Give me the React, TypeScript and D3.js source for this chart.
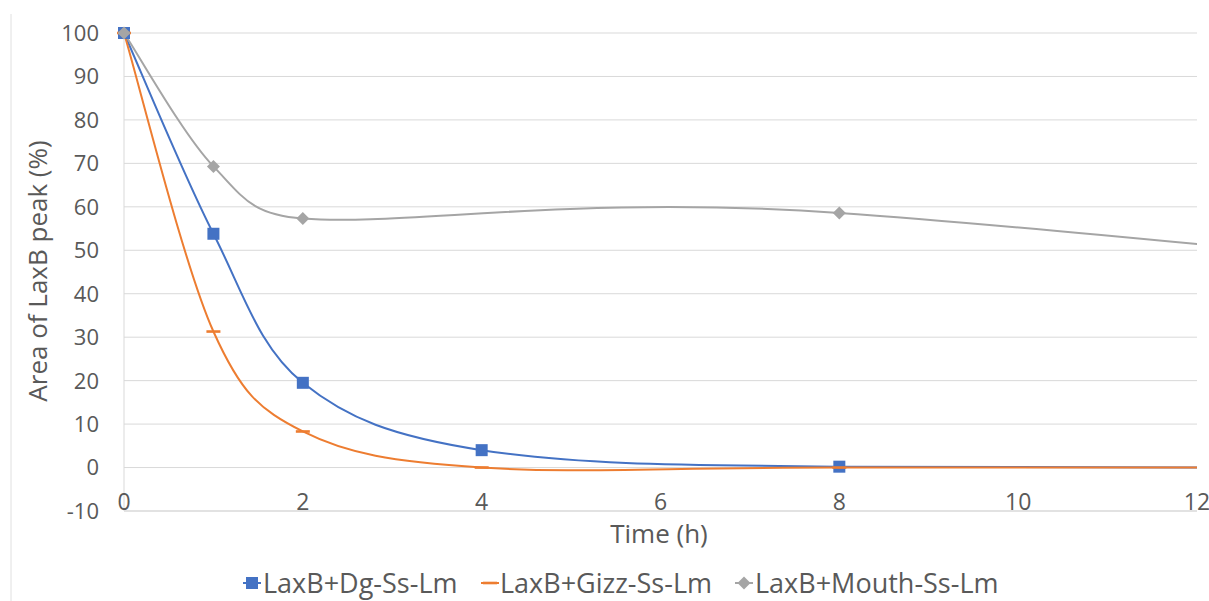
import React from "react";
import * as d3 from "d3";

const times = [0, 1, 2, 4, 8, 24];
const dgValues = [100, 53.8, 19.5, 4.0, 0.2, 0];
const gizzValues = [100, 31.3, 8.3, 0, 0, 0];
const mouthValues = [100, 69.3, 57.3, null, 58.6, 26];
const xTicks = [0, 2, 4, 6, 8, 10, 12];
const yTicks = [-10, 0, 10, 20, 30, 40, 50, 60, 70, 80, 90, 100];

const seriesNames = ["LaxB+Dg-Ss-Lm", "LaxB+Gizz-Ss-Lm", "LaxB+Mouth-Ss-Lm"];
const colors = ["#4472C4", "#ED7D31", "#A5A5A5"];

const W = 1209;
const H = 601;
const FONT = "'Open Sans', 'Liberation Sans', sans-serif";
const TXT = "#595959";

// Excel-like smoothing: cardinal spline (1/6 tangent) with control arms limited
// to half the adjacent segment length.
function smoothPath(p: [number, number][]): string {
  const path = d3.path();
  const n = p.length;
  if (n === 0) return "";
  path.moveTo(p[0][0], p[0][1]);
  const tan = (i: number): [number, number] => {
    const a = p[Math.max(0, i - 1)];
    const b = p[Math.min(n - 1, i + 1)];
    return [(b[0] - a[0]) / 6, (b[1] - a[1]) / 6];
  };
  const limit = (t: [number, number], segLen: number): [number, number] => {
    const l = Math.hypot(t[0], t[1]);
    const m = segLen * 0.5;
    if (l > m && l > 0) return [(t[0] * m) / l, (t[1] * m) / l];
    return t;
  };
  for (let i = 0; i < n - 1; i++) {
    const a = p[i];
    const b = p[i + 1];
    const seg = Math.hypot(b[0] - a[0], b[1] - a[1]);
    const ta = limit(tan(i), seg);
    const tb = limit(tan(i + 1), seg);
    path.bezierCurveTo(a[0] + ta[0], a[1] + ta[1], b[0] - tb[0], b[1] - tb[1], b[0], b[1]);
  }
  return path.toString();
}

export default function App() {
  const x = d3.scaleLinear().domain([0, 12]).range([124, 1197]);
  const y = d3.scaleLinear().domain([-10, 100]).range([511, 33]);
  const allSeries = [dgValues, gizzValues, mouthValues];

  const pts = (vals: (number | null)[]) =>
    times
      .map((t, i) => [t, vals[i]] as [number, number | null])
      .filter((d) => d[1] !== null) as [number, number][];

  const marker = (si: number, cx: number, cy: number, key: string) => {
    const c = colors[si];
    if (si === 0) return <rect key={key} x={cx - 6} y={cy - 6} width={12} height={12} fill={c} />;
    if (si === 1) return <rect key={key} x={cx - 7} y={cy - 1.3} width={14} height={2.6} fill={c} />;
    return (
      <path
        key={key}
        d={`M${cx},${cy - 6.5}L${cx + 6.5},${cy}L${cx},${cy + 6.5}L${cx - 6.5},${cy}Z`}
        fill={c}
      />
    );
  };

  const legendItems = [
    { mx: 252, tx: 263 },
    { mx: 490, tx: 500 },
    { mx: 744, tx: 755 },
  ];
  const LY = 583;

  return (
    <svg width={W} height={H} style={{ position: "absolute", left: 0, top: 0, background: "#fff" }}>
      <defs>
        <clipPath id="plot">
          <rect x={124} y={20} width={1197 - 124} height={511 - 20} />
        </clipPath>
      </defs>
      <line x1={11} x2={11} y1={14} y2={H} stroke="#e0e0e0" strokeWidth={1} />
      {yTicks.map((t) =>
        t >= 0 ? (
          <line key={t} x1={124} x2={1197} y1={y(t)} y2={y(t)} stroke="#d9d9d9" strokeWidth={1} />
        ) : null
      )}
      <line x1={124} x2={1197} y1={y(-10)} y2={y(-10)} stroke="#d9d9d9" strokeWidth={1.5} />
      <line x1={124} x2={124} y1={y(100)} y2={y(-10)} stroke="#d9d9d9" strokeWidth={1} />
      {yTicks.map((t) => (
        <text
          key={t}
          x={99}
          y={y(t)}
          dy="0.36em"
          textAnchor="end"
          fontFamily={FONT}
          fontSize={22}
          fill={TXT}
        >
          {t}
        </text>
      ))}
      {xTicks.map((t) => (
        <text key={t} x={x(t)} y={510} textAnchor="middle" fontFamily={FONT} fontSize={23} fill={TXT}>
          {t}
        </text>
      ))}
      <text x={659} y={543} textAnchor="middle" fontFamily={FONT} fontSize={26} fill={TXT}>
        Time (h)
      </text>
      <text
        transform={`translate(47,271) rotate(-90)`}
        textAnchor="middle"
        fontFamily={FONT}
        fontSize={26}
        fill={TXT}
      >
        Area of LaxB peak (%)
      </text>
      <g clipPath="url(#plot)">
        {allSeries.map((vals, si) => (
          <path
            key={si}
            d={smoothPath(pts(vals).map((d) => [x(d[0]), y(d[1])] as [number, number]))}
            fill="none"
            stroke={colors[si]}
            strokeWidth={2}
          />
        ))}
      </g>
      {allSeries.map((vals, si) =>
        pts(vals)
          .filter((d) => d[0] <= 12)
          .map((d, i) => marker(si, x(d[0]), y(d[1]), `${si}-${i}`))
      )}
      {legendItems.map((it, i) => (
        <g key={i}>
          <line x1={it.mx - 9} x2={it.mx + 9} y1={LY} y2={LY} stroke={colors[i]} strokeWidth={2} />
          {marker(i, it.mx, LY, `lg${i}`)}
          <text x={it.tx} y={LY} dy="0.36em" fontFamily={FONT} fontSize={27} fill={TXT}>
            {seriesNames[i]}
          </text>
        </g>
      ))}
    </svg>
  );
}
